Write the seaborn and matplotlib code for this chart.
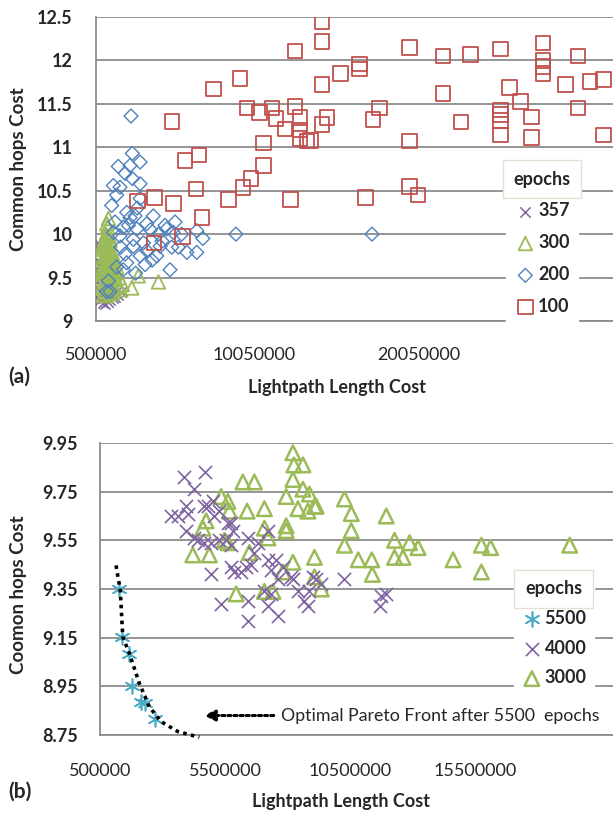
import numpy as np
import matplotlib
matplotlib.use("Agg")
import matplotlib.pyplot as plt
import seaborn as sns

# ---------------- (a) data  (x in millions) ----------------
a_series = ["357", "300", "200", "100"]

a357_x = [0.60, 0.58, 0.62, 0.56, 0.60, 0.58, 0.62, 0.66, 0.75, 0.90, 1.05, 1.20, 1.35,
          1.50, 1.65, 1.85, 2.00, 0.80, 1.00, 1.25, 1.45, 1.70, 0.70, 0.75, 0.70]
a357_y = [9.90, 9.80, 9.70, 9.62, 9.55, 9.45, 9.38, 9.30, 9.24, 9.21, 9.20, 9.22, 9.24,
          9.26, 9.28, 9.30, 9.33, 9.32, 9.27, 9.27, 9.30, 9.33, 9.50, 9.65, 9.82]

a300_x = [1.25, 1.20, 1.10, 1.30, 1.00, 1.20, 1.40, 0.90, 1.10, 1.30, 1.50, 0.80, 1.00, 1.20,
          1.40, 1.60, 0.80, 1.00, 1.20, 1.40, 1.65, 0.85, 1.05, 1.25, 1.45, 1.70, 1.90, 0.80,
          1.00, 1.20, 1.40, 1.60, 1.85, 2.10, 0.85, 1.05, 1.30, 1.50, 0.95, 1.15, 3.06, 4.28, 2.66,
          1.15, 1.05, 0.95, 1.35, 0.90, 1.15, 1.55, 0.95, 1.30, 1.75, 1.10, 1.60, 2.00, 0.90, 1.35]
a300_y = [10.18, 10.08, 10.00, 9.98, 9.92, 9.90, 9.88, 9.84, 9.82, 9.80, 9.78, 9.76, 9.74, 9.72,
          9.70, 9.68, 9.66, 9.64, 9.62, 9.60, 9.58, 9.58, 9.54, 9.52, 9.50, 9.48, 9.50, 9.48,
          9.45, 9.42, 9.40, 9.38, 9.40, 9.42, 9.38, 9.35, 9.33, 9.32, 9.30, 9.29, 9.52, 9.45, 9.38,
          10.12, 9.95, 9.88, 9.93, 9.70, 9.77, 9.73, 9.57, 9.66, 9.62, 9.49, 9.55, 9.36, 9.40, 9.46]

a200_x = [2.62, 2.70, 3.17, 1.85, 2.56, 2.26, 2.70, 3.17, 1.55, 1.95, 3.17, 1.45, 2.36, 2.86,
          3.97, 1.65, 2.56, 3.57, 4.68, 5.29, 2.15, 2.97, 4.28, 5.18, 6.60, 6.97, 8.97, 1.95,
          2.76, 3.37, 4.38, 5.49, 6.00, 6.60, 2.26, 3.17, 4.18, 2.36, 3.47, 4.98, 2.15, 1.25,
          1.35, 5.69, 5.09, 3.57, 2.76, 1.55, 1.15, 4.78, 2.46, 17.21, 1.75, 3.00, 3.80, 4.50,
          2.00, 2.90, 1.75, 3.90]
a200_y = [11.36, 10.93, 10.83, 10.78, 10.79, 10.70, 10.64, 10.58, 10.56, 10.54, 10.41, 10.33,
          10.25, 10.21, 10.21, 10.14, 10.19, 10.12, 10.10, 10.14, 10.08, 10.06, 10.00, 10.02,
          10.04, 9.95, 10.00, 9.98, 9.94, 9.90, 9.86, 9.85, 9.79, 9.79, 9.77, 9.75, 9.75, 9.67,
          9.65, 9.59, 9.59, 9.46, 9.34, 10.00, 9.85, 9.81, 9.86, 10.02, 9.34, 10.06, 10.10,
          10.00, 10.45, 10.30, 10.05, 9.92, 9.85, 9.55, 9.62, 9.70]

a100_x = [12.56, 9.23, 7.61, 5.09, 9.63, 10.40, 11.15, 11.41, 11.95, 12.56, 12.86, 12.86, 12.86,
          13.27, 10.64, 5.89, 6.74, 10.64, 9.88, 9.39, 6.56, 4.03, 3.00, 5.18, 8.52, 12.26, 6.91,
          5.73, 4.01, 14.18, 14.18, 19.49, 21.51, 23.17, 24.98, 27.57, 29.67, 16.46, 16.46, 15.29,
          14.18, 27.57, 27.57, 27.57, 28.92, 30.40, 31.21, 25.55, 21.51, 26.20, 29.67, 17.67,
          17.27, 14.48, 14.18, 13.47, 22.60, 24.98, 24.98, 24.98, 24.98, 26.88, 26.88, 31.21,
          19.49, 19.49, 19.99, 16.80]
a100_y = [12.11, 11.79, 11.67, 11.30, 11.45, 11.40, 11.45, 11.33, 11.21, 11.47, 11.34, 11.20,
          11.10, 11.07, 11.05, 10.85, 10.91, 10.79, 10.64, 10.54, 10.52, 10.42, 10.38, 10.35,
          10.40, 10.40, 10.19, 9.97, 9.90, 12.44, 12.22, 12.15, 12.05, 12.07, 12.13, 12.20, 12.05,
          11.96, 11.90, 11.85, 11.72, 12.00, 11.93, 11.85, 11.72, 11.76, 11.78, 11.69, 11.62,
          11.53, 11.45, 11.45, 11.32, 11.34, 11.26, 11.08, 11.29, 11.43, 11.38, 11.31, 11.14,
          11.35, 11.11, 11.14, 11.07, 10.55, 10.45, 10.42]

a_xticks = [500000, 10050000, 20050000]
a_yticks = [9, 9.5, 10, 10.5, 11, 11.5, 12, 12.5]

# ---------------- (b) data (x in millions) ----------------
b_series = ["5500", "4000", "3000"]

b5500_x = [1.27, 1.37, 1.67, 1.77, 2.14, 2.30, 2.70]
b5500_y = [9.348, 9.151, 9.082, 8.951, 8.887, 8.882, 8.814]

b4000_x = [3.87, 4.70, 4.27, 3.94, 3.34, 3.61, 4.67, 5.01, 5.27, 5.61, 5.81, 3.94, 4.27, 4.67,
           5.74, 5.27, 6.41, 6.81, 7.21, 4.94, 5.87, 6.14, 6.34, 6.67, 7.21, 7.54, 7.07, 7.34,
           7.61, 5.34, 6.41, 6.41, 7.21, 7.61, 8.14, 8.41, 8.67, 5.74, 4.01, 4.81, 5.07, 4.41,
           4.94, 5.74, 5.54, 6.54, 7.34, 7.81, 8.21, 8.81, 9.01, 9.14, 9.34, 10.27, 11.74, 11.67,
           11.94, 8.87]
b4000_y = [9.81, 9.83, 9.76, 9.69, 9.65, 9.65, 9.69, 9.71, 9.67, 9.62, 9.59, 9.59, 9.56, 9.54,
           9.53, 9.55, 9.56, 9.54, 9.59, 9.41, 9.42, 9.42, 9.44, 9.50, 9.47, 9.47, 9.34, 9.33,
           9.39, 9.29, 9.30, 9.22, 9.28, 9.24, 9.40, 9.34, 9.30, 9.44, 9.66, 9.69, 9.65, 9.55,
           9.54, 9.62, 9.55, 9.45, 9.43, 9.44, 9.39, 9.28, 9.40, 9.39, 9.37, 9.39, 9.32, 9.28,
           9.33, 9.34]

b3000_x = [8.21, 8.25, 8.61, 8.21, 6.21, 6.67, 5.34, 7.94, 8.61, 8.87, 5.61, 5.67, 6.38, 7.07,
           8.41, 9.07, 8.81, 4.74, 4.61, 7.07, 7.94, 7.94, 7.21, 5.47, 4.21, 4.87, 6.47, 8.21,
           7.81, 5.94, 7.07, 7.41, 9.07, 9.07, 9.34, 10.27, 10.54, 10.54, 10.27, 10.82, 11.36,
           11.38, 11.94, 12.27, 12.87, 13.21, 12.27, 12.61, 14.61, 15.74, 16.11, 15.74, 19.27,
           9.14, 5.61]
b3000_y = [9.91, 9.86, 9.86, 9.80, 9.79, 9.79, 9.73, 9.73, 9.76, 9.74, 9.71, 9.67, 9.67, 9.68,
           9.68, 9.69, 9.67, 9.63, 9.60, 9.60, 9.61, 9.59, 9.56, 9.55, 9.49, 9.49, 9.50, 9.46,
           9.42, 9.33, 9.34, 9.34, 9.48, 9.40, 9.35, 9.72, 9.66, 9.59, 9.53, 9.47, 9.47, 9.41,
           9.65, 9.55, 9.54, 9.52, 9.48, 9.48, 9.47, 9.53, 9.52, 9.42, 9.53, 9.69, 9.54]

pareto_x = [1.14, 1.31, 1.41, 1.67, 2.07, 2.47, 2.94, 3.61, 4.47]
pareto_y = [9.447, 9.345, 9.153, 9.086, 8.963, 8.866, 8.805, 8.764, 8.741]

b_xticks = [500000, 5500000, 10500000, 15500000]
b_yticks = [8.75, 8.95, 9.15, 9.35, 9.55, 9.75, 9.95]

annot_text = "Optimal Pareto Front after 5500  epochs"
annot_xy = (4.66, 8.83)
annot_text_xy = (7.74, 8.83)

M = 1e6
def m(v):
    return np.asarray(v) * M

# ---------------- styling ----------------
sns.set_style("white")
plt.rcParams['font.family'] = ['Lato', 'DejaVu Sans']

BLUE = '#4F81BD'
RED = '#C0504D'
GREEN = '#9BBB59'
PURPLE = '#8064A2'
AQUA = '#4BACC6'
GRID = '#8C8C8C'

fig = plt.figure(figsize=(6.13, 8.14), dpi=100)
ax1 = fig.add_axes([96 / 613, 1 - 321 / 814, 517 / 613, 304 / 814])
ax2 = fig.add_axes([100 / 613, 1 - 735 / 814, 513 / 613, 292 / 814])

def style(ax):
    for s in ['top', 'right']:
        ax.spines[s].set_visible(False)
    for s in ['left', 'bottom']:
        ax.spines[s].set_color(GRID)
        ax.spines[s].set_linewidth(1.3)
    ax.grid(axis='y', color=GRID, lw=1.3)
    ax.grid(axis='x', visible=False)
    ax.set_axisbelow(True)
    ax.tick_params(length=0)

# ---- panel (a) ----
sns.scatterplot(x=m(a357_x), y=a357_y, ax=ax1, marker='x', color=PURPLE, s=55,
                linewidth=1.1, label=a_series[0], zorder=3)
sns.scatterplot(x=m(a300_x), y=a300_y, ax=ax1, marker='^', facecolor='none',
                edgecolor=GREEN, s=95, linewidth=1.3, label=a_series[1], zorder=3)
sns.scatterplot(x=m(a200_x), y=a200_y, ax=ax1, marker='D', facecolor='none',
                edgecolor=BLUE, s=50, linewidth=1.0, label=a_series[2], zorder=3)
sns.scatterplot(x=m(a100_x), y=a100_y, ax=ax1, marker='s', facecolor='none',
                edgecolor=RED, s=110, linewidth=1.3, label=a_series[3], zorder=3)

style(ax1)
ax1.set_xlim(500000, 31.8 * M)
ax1.set_ylim(9, 12.5)
ax1.set_xticks(a_xticks, labels=[f'{v:d}' for v in a_xticks], fontsize=13)
ax1.set_yticks(a_yticks, labels=[f'{v:g}' for v in a_yticks], fontsize=13, fontweight='bold')
ax1.tick_params(axis='x', pad=19)
ax1.tick_params(axis='y', pad=17)
ax1.set_xlabel('Lightpath Length Cost', fontsize=13, fontweight='bold')
ax1.set_ylabel('Common hops Cost', fontsize=13.5, fontweight='bold')
ax1.xaxis.set_label_coords(0.466, -0.19)
ax1.yaxis.set_label_coords(-0.133, 0.5)

h, l = ax1.get_legend_handles_labels()
leg1 = ax1.legend(h, l, title='epochs', loc='upper left', bbox_to_anchor=(0.776, 0.548),
                  frameon=True, fancybox=False, framealpha=1, facecolor='white',
                  edgecolor='white', prop={'weight': 'bold', 'size': 13},
                  title_fontproperties={'weight': 'bold', 'size': 13},
                  handletextpad=0.1, labelspacing=0.82, borderpad=0.4, handlelength=1.2)
leg1.get_title().set_bbox(dict(boxstyle='square,pad=0.6', facecolor='white',
                               edgecolor='#E2E2D4', lw=1))

# ---- panel (b) ----
sns.scatterplot(x=m(b3000_x), y=b3000_y, ax=ax2, marker='^', facecolor='none',
                edgecolor=GREEN, s=110, linewidth=1.8, label=b_series[2], zorder=3)
sns.scatterplot(x=m(b4000_x), y=b4000_y, ax=ax2, marker='x', color=PURPLE, s=90,
                linewidth=1.2, label=b_series[1], zorder=3)
sns.scatterplot(x=m(b5500_x), y=b5500_y, ax=ax2, marker=(6, 2, 0), color=AQUA, s=110,
                linewidth=1.2, label=b_series[0], zorder=4)
sns.lineplot(x=m(pareto_x), y=pareto_y, ax=ax2, color='black', lw=2.6,
             linestyle=(0, (1, 1.2)), sort=False, estimator=None, zorder=5, clip_on=False)

style(ax2)
ax2.set_xlim(500000, 21.0 * M)
ax2.set_ylim(8.75, 9.95)
ax2.set_xticks(b_xticks, labels=[f'{v:d}' for v in b_xticks], fontsize=13)
ax2.set_yticks(b_yticks, labels=[f'{v:.2f}' for v in b_yticks], fontsize=13, fontweight='bold')
ax2.tick_params(axis='x', pad=20)
ax2.tick_params(axis='y', pad=16)
ax2.set_xlabel('Lightpath Length Cost', fontsize=13, fontweight='bold')
ax2.set_ylabel('Coomon hops Cost', fontsize=13.5, fontweight='bold')
ax2.xaxis.set_label_coords(0.47, -0.20)
ax2.yaxis.set_label_coords(-0.142, 0.48)

h, l = ax2.get_legend_handles_labels()
order = [l.index(s) for s in b_series]
leg2 = ax2.legend([h[i] for i in order], [l[i] for i in order], title='epochs',
                  loc='upper left', bbox_to_anchor=(0.789, 0.585),
                  frameon=True, fancybox=False, framealpha=1, facecolor='white',
                  edgecolor='white', prop={'weight': 'bold', 'size': 13},
                  title_fontproperties={'weight': 'bold', 'size': 13},
                  handletextpad=0.1, labelspacing=0.7, borderpad=0.4, handlelength=1.2)
leg2.get_title().set_bbox(dict(boxstyle='square,pad=0.6', facecolor='white',
                               edgecolor='#E2E2D4', lw=1))

ax2.annotate(annot_text, xy=(annot_xy[0] * M, annot_xy[1]),
             xytext=(annot_text_xy[0] * M, annot_text_xy[1]), ha='left', va='center',
             fontsize=12.8, annotation_clip=False, zorder=6,
             arrowprops=dict(arrowstyle='-|>', linestyle=(0, (1, 1)), lw=2.2, color='black',
                             mutation_scale=16, shrinkA=3, shrinkB=0))

fig.text(8 / 613, 1 - 377 / 814, '(a)', fontsize=15, fontweight='bold', va='center', ha='left')
fig.text(8 / 613, 1 - 792 / 814, '(b)', fontsize=15, fontweight='bold', va='center', ha='left')

fig.savefig('out.png', dpi=100)
